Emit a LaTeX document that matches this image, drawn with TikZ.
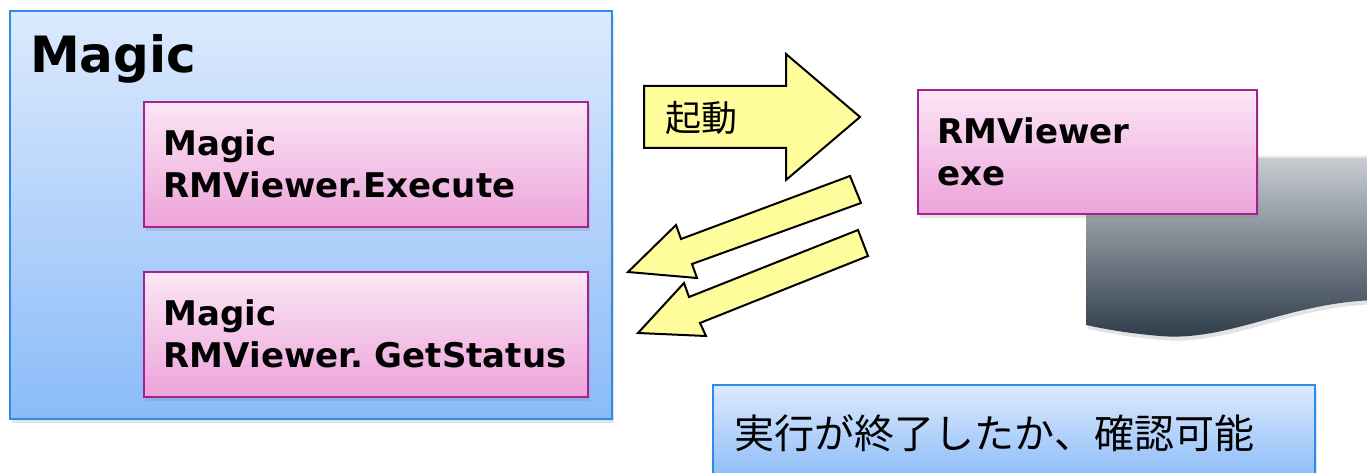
\documentclass[tikz,border=0pt]{standalone}
\usepackage{fontspec}
\setmainfont{DejaVu Sans}
\newfontfamily\jafont{Noto Sans CJK JP}
\usetikzlibrary{shadows}
\frenchspacing
\definecolor{boxtop}{HTML}{DCEAFD}
\definecolor{boxbottom}{HTML}{8BBBF8}
\definecolor{boxline}{HTML}{2E8BE6}
\definecolor{pinktop}{HTML}{FBE6F5}
\definecolor{pinkbottom}{HTML}{EDA3DA}
\definecolor{pinkline}{HTML}{A2228F}
\definecolor{arrowfill}{HTML}{FFFC9C}
\definecolor{doctop}{HTML}{C9CED3}
\definecolor{docbottom}{HTML}{2B3947}
\begin{document}
\begin{tikzpicture}[x=1pt,y=-1pt,
  softshadow/.style={drop shadow={shadow xshift=2pt,shadow yshift=-4pt,opacity=0.22}},
  bluebox/.style={draw=boxline,line width=1.6pt,top color=boxtop,bottom color=boxbottom,
    softshadow,anchor=north west,inner ysep=0pt},
  pinkbox/.style={draw=pinkline,line width=1.6pt,top color=pinktop,bottom color=pinkbottom,
    softshadow,anchor=north west,minimum width=444pt,minimum height=125pt,
    text width=404pt,inner xsep=20pt,inner ysep=0pt,align=left,
    font=\bfseries\fontsize{34}{42}\selectfont},
  docshape/.style={top color=doctop,bottom color=docbottom,softshadow},
  blockarrow/.style={draw=black,line width=2pt,fill=arrowfill,line join=miter}]
\useasboundingbox (0,0) rectangle (1367,473);
\clip (0,0) rectangle (1367,473);

% Magic side
\node[bluebox,minimum width=602pt,minimum height=408pt] (magic) at (9,10) {};
\node[anchor=base west,inner sep=0pt,font=\bfseries\fontsize{50}{60}\selectfont] (title) at (30,73) {Magic};
\node[pinkbox] (execute) at (143,101) {Magic\\RMViewer.Execute};
\node[pinkbox] (status) at (143,271) {Magic\\\mbox{RMViewer. GetStatus}};

% document behind the exe
\path[docshape] (1086,156) -- (1380,156) -- (1380,300)
  .. controls (1290,301) and (1230,342) .. (1160,336)
  .. controls (1125,333) and (1105,329) .. (1086,325) -- cycle;
\draw[white,opacity=0.55,line width=1.5pt] (1086,157) -- (1380,157);

\node[pinkbox,minimum width=339pt,minimum height=124pt,text width=299pt] (viewer) at (917,89) {RMViewer\\exe};

% arrows
\draw[blockarrow] (644,86) -- (786,86) -- (786,54) -- (860,117) -- (786,180) -- (786,148) -- (644,148) -- cycle;
\node[font=\jafont\fontsize{36}{40}\selectfont] (launch) at (701,118) {起動};

\draw[blockarrow] (850,176) -- (861,203) -- (692,264) -- (697,278) -- (628,272) -- (676,225) -- (681,239) -- cycle;
\draw[blockarrow] (858,230) -- (868,256) -- (700,323) -- (706,336) -- (638,333) -- (684,283) -- (689,297) -- cycle;

% note
\node[bluebox,minimum width=602pt,minimum height=96pt,text width=558pt,inner xsep=22pt,
  align=left,font=\jafont\fontsize{40}{48}\selectfont] (note) at (712,384) {実行が終了したか、確認可能};
\end{tikzpicture}
\end{document}
